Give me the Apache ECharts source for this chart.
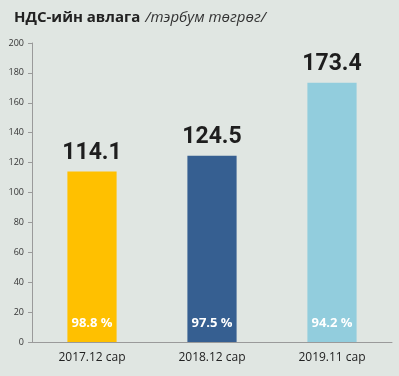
<!DOCTYPE html>
<html>
<head>
<meta charset="utf-8">
<script src="https://cdn.jsdelivr.net/npm/echarts@6/dist/echarts.min.js"></script>
<style>
  html, body { margin: 0; padding: 0; background: #E0E6E2; }
  #main { width: 399px; height: 376px; }
</style>
</head>
<body>
<div id="main"></div>
<script>
var categories = ['2017.12 сар', '2018.12 сар', '2019.11 сар'];
var values = [114.1, 124.5, 173.4];
var shares = ['98.8 %', '97.5 %', '94.2 %'];
var barColors = ['#FFC000', '#365F91', '#92CDDD'];
var yTicks = [0, 20, 40, 60, 80, 100, 120, 140, 160, 180, 200];

var dom = document.getElementById('main');
var myChart = echarts.init(dom);

var option = {
  backgroundColor: '#E0E6E2',
  animation: false,
  title: {
    text: '{b|НДС-ийн авлага} {i|/тэрбум төгрөг/}',
    left: 9,
    top: 4,
    textStyle: {
      rich: {
        b: { fontFamily: 'Open Sans', fontWeight: 'bold', fontSize: 15, color: '#222' },
        i: { fontFamily: 'Open Sans', fontStyle: 'italic', fontWeight: 'normal', fontSize: 15, color: '#333' }
      }
    }
  },
  grid: { left: 32, right: 7, top: 43, bottom: 34 },
  xAxis: {
    type: 'category',
    data: categories,
    axisLine: { lineStyle: { color: '#9a9a9a' } },
    axisTick: { lineStyle: { color: '#9a9a9a' } },
    axisLabel: { color: '#222', fontSize: 12, fontFamily: 'Open Sans', margin: 10 }
  },
  yAxis: {
    type: 'value',
    min: yTicks[0],
    max: yTicks[yTicks.length - 1],
    interval: 20,
    splitLine: { show: false },
    axisLine: { show: true, lineStyle: { color: '#9a9a9a' } },
    axisTick: { show: true, length: 4, lineStyle: { color: '#9a9a9a' } },
    axisLabel: { color: '#333', fontSize: 9, fontFamily: 'Open Sans', margin: 8 }
  },
  series: [
    {
      type: 'bar',
      barWidth: '41%',
      data: values.map(function (v, i) {
        return { value: v, itemStyle: { color: barColors[i] } };
      }),
      label: {
        show: true,
        position: 'top',
        distance: 7,
        fontFamily: 'Roboto',
        fontWeight: 'bold',
        fontSize: 23,
        color: '#1e1e1e'
      }
    },
    {
      type: 'bar',
      barWidth: '41%',
      barGap: '-100%',
      silent: true,
      itemStyle: { color: 'transparent' },
      data: values,
      label: {
        show: true,
        position: 'insideBottom',
        distance: 12,
        fontFamily: 'Open Sans',
        fontWeight: 'bold',
        fontSize: 13,
        color: '#ffffff',
        formatter: function (p) { return shares[p.dataIndex]; }
      }
    }
  ]
};

window.onresize = function () {
  myChart.resize();
};

if (option && typeof option === 'object') {
  myChart.setOption(option);
}
</script>
</body>
</html>
